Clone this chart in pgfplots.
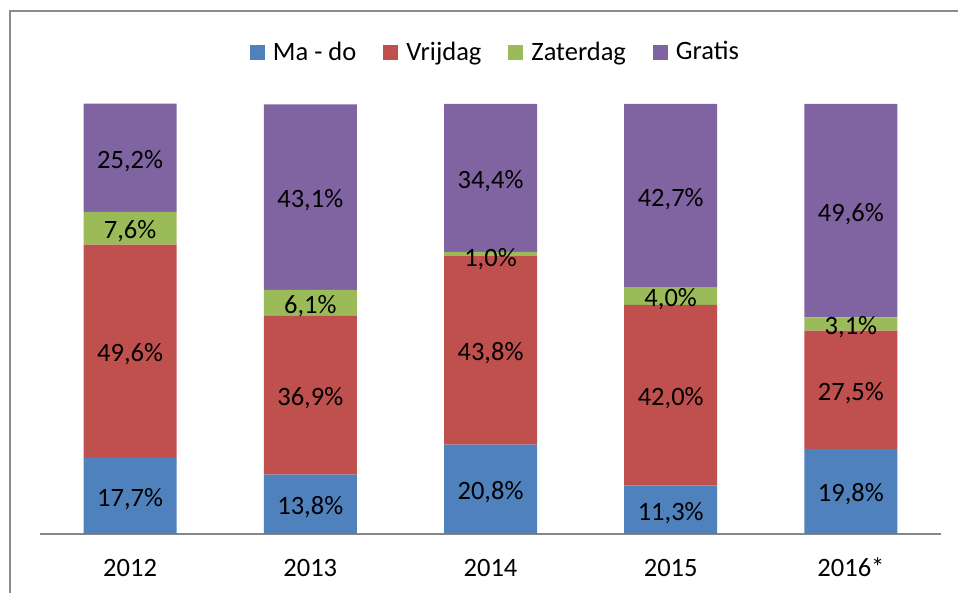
\documentclass[border=0pt]{standalone}
\usepackage{fontspec}
\setmainfont{Carlito}
\usepackage{pgfplots}
\pgfplotsset{compat=1.18}
\usepackage{pgfplotstable}
\definecolor{cMado}{HTML}{4F81BD}
\definecolor{cVrij}{HTML}{C0504D}
\definecolor{cZat}{HTML}{9BBB59}
\definecolor{cGrat}{HTML}{8064A2}
\definecolor{framegray}{HTML}{8C8C8C}
\definecolor{axisgray}{HTML}{868686}
\newcommand{\bigf}{\fontsize{26.5}{31}\selectfont}
\pgfplotsset{sq legend/.style={legend image code/.code={\fill[##1] (0pt,-7.5pt) rectangle (15pt,7.5pt);}}}

\pgfplotstableread{
x mado vrij zat grat
0 17.7 49.6 7.6 25.2
1 13.8 36.9 6.1 43.1
2 20.8 43.8 1.0 34.4
3 11.3 42.0 4.0 42.7
4 19.8 27.5 3.1 49.6
}\datatable

\pgfplotstableread{
x y label
0 8.85 17,7
0 42.5 49,6
0 71.1 7,6
0 87.5 25,2
1 6.9 13,8
1 32.25 36,9
1 53.75 6,1
1 78.35 43,1
2 10.4 20,8
2 42.7 43,8
2 64.6 1,0
2 82.8 34,4
3 5.65 11,3
3 32.3 42,0
3 55.3 4,0
3 78.65 42,7
4 9.9 19,8
4 33.55 27,5
4 48.85 3,1
4 75.2 49,6
}\labeltable

\begin{document}
\bigf
\begin{tikzpicture}[x=1pt,y=1pt,font=\bigf]
\useasboundingbox (0,0) rectangle (958,593);
\draw[framegray, line width=2pt] (10,-5) -- (10,581.5) -- (965,581.5);
\begin{axis}[
  at={(40pt,59pt)}, anchor=south west,
  scale only axis, width=901pt, height=430pt,
  xmin=-0.5, xmax=4.5, ymin=0, ymax=100,
  ybar stacked, bar width=93pt,
  axis y line=none, axis x line*=bottom,
  x axis line style={axisgray, line width=1.5pt, -},
  xtick={0,1,2,3,4}, xticklabels={2012,2013,2014,2015,2016*},
  major tick length=0pt,
  xticklabel style={anchor=base, yshift=-43pt, inner sep=0pt, font=\bigf},
  legend columns=4,
  legend style={draw=none, fill=none, at={(0.5044,1.119)}, anchor=center, font=\bigf,
    nodes={inner sep=0pt},
    /tikz/every odd column/.append style={column sep=8pt},
    /tikz/every even column/.append style={column sep=27pt}},
]
\addplot[fill=cMado, draw=none, sq legend] table[x=x,y=mado]{\datatable};
\addplot[fill=cVrij, draw=none, sq legend] table[x=x,y=vrij]{\datatable};
\addplot[fill=cZat, draw=none, sq legend] table[x=x,y=zat]{\datatable};
\addplot[fill=cGrat, draw=none, sq legend] table[x=x,y=grat]{\datatable};
\legend{Ma - do, Vrijdag, Zaterdag, Gratis}
\end{axis}
\begin{axis}[
  at={(40pt,59pt)}, anchor=south west,
  scale only axis, width=901pt, height=430pt,
  xmin=-0.5, xmax=4.5, ymin=0, ymax=100,
  axis lines=none, xtick=\empty, ytick=\empty,
]
\addplot[draw=none, mark=none, nodes near coords={\pgfplotspointmeta\%},
  point meta=explicit symbolic,
  every node near coord/.append style={anchor=base, yshift=-10.5pt, text=black, font=\bigf, inner sep=0pt}]
  table[x=x,y=y,meta=label]{\labeltable};
\end{axis}
\end{tikzpicture}
\end{document}
